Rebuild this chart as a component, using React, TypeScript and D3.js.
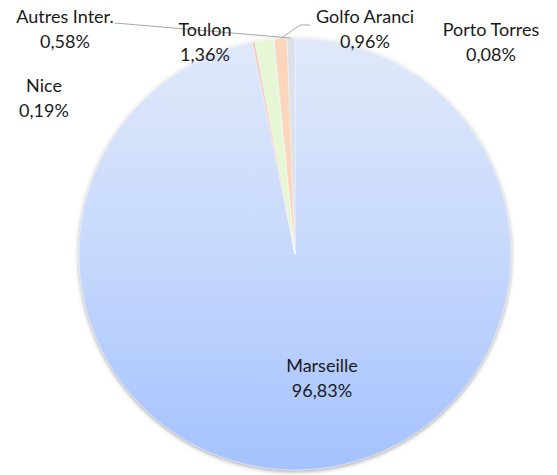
import React, { useEffect, useRef } from 'react';
import * as d3 from 'd3';

// ports, clockwise from 12 o'clock
const ports = ['Marseille', 'Nice', 'Toulon', 'Porto Torres', 'Golfo Aranci', 'Autres Inter.'];
const shares = [96.83, 0.19, 1.36, 0.08, 0.96, 0.58];
const pctLabels = ['96,83%', '0,19%', '1,36%', '0,08%', '0,96%', '0,58%'];

const colors = ['url(#gradMarseille)', '#f6c3c3', '#e6f7d3', '#c9eef2', '#fcd6bb', '#dde1e9'];

// where Excel placed the labels (center x, first baseline y)
const labelAt = {
  'Marseille': [322, 372],
  'Nice': [44, 92],
  'Toulon': [205, 36],
  'Porto Torres': [491, 36],
  'Golfo Aranci': [365, 23],
  'Autres Inter.': [65, 23],
};

const W = 557;
const H = 475;

const App = () => {
  const svgRef = useRef(null);

  useEffect(() => {
    const svg = d3.select(svgRef.current);
    svg.selectAll('*').remove();

    const cx = 295;
    const cy = 254;
    const r = 216;

    const defs = svg.append('defs');
    // gradient is resolved in the pie group's own (translated) space
    const grad = defs.append('linearGradient')
      .attr('id', 'gradMarseille')
      .attr('gradientUnits', 'userSpaceOnUse')
      .attr('x1', 0).attr('y1', -r)
      .attr('x2', 0).attr('y2', r);
    grad.append('stop').attr('offset', '0%').attr('stop-color', '#e0e9f9');
    grad.append('stop').attr('offset', '50%').attr('stop-color', '#c6d8fc');
    grad.append('stop').attr('offset', '100%').attr('stop-color', '#a5c2ff');

    const shadow = defs.append('filter').attr('id', 'pieShadow')
      .attr('x', '-10%').attr('y', '-10%').attr('width', '120%').attr('height', '120%');
    shadow.append('feDropShadow')
      .attr('dx', 0).attr('dy', 1.5)
      .attr('stdDeviation', 2)
      .attr('flood-color', '#555')
      .attr('flood-opacity', 0.55);

    const data = ports.map((p, i) => ({ port: p, value: shares[i], pct: pctLabels[i], color: colors[i] }));

    const pie = d3.pie().sort(null).value(d => d.value);
    const arc = d3.arc().innerRadius(0).outerRadius(r);
    const arcs = pie(data);

    const g = svg.append('g').attr('transform', `translate(${cx},${cy})`);

    g.append('g')
      .attr('filter', 'url(#pieShadow)')
      .selectAll('path')
      .data(arcs)
      .enter().append('path')
      .attr('d', arc)
      .attr('fill', d => d.data.color)
      .attr('stroke', '#ffffff')
      .attr('stroke-width', 0.4);

    // leader lines for the two labels that sit away from their slices
    const byName = Object.fromEntries(arcs.map(a => [a.data.port, a]));
    const tip = name => {
      const a = byName[name];
      const mid = (a.startAngle + a.endAngle) / 2;
      return [cx + r * Math.sin(mid), cy - r * Math.cos(mid)];
    };
    const line = d3.line();
    svg.append('path')
      .attr('d', line([[115, 23], tip('Autres Inter.')]))
      .attr('fill', 'none').attr('stroke', '#a6a6a6').attr('stroke-width', 1);
    svg.append('path')
      .attr('d', line([[310, 25], [300, 25], tip('Golfo Aranci')]))
      .attr('fill', 'none').attr('stroke', '#a6a6a6').attr('stroke-width', 1);

    const labels = svg.append('g')
      .attr('font-family', 'Lato, "Open Sans", sans-serif')
      .attr('font-size', 18)
      .attr('fill', '#1a1a1a')
      .attr('text-anchor', 'middle');

    data.forEach(d => {
      const [x, y] = labelAt[d.port];
      const t = labels.append('text').attr('x', x).attr('y', y);
      t.append('tspan').attr('x', x).text(d.port);
      t.append('tspan').attr('x', x).attr('dy', 25).text(d.pct);
    });
  }, []);

  return (
    <svg
      ref={svgRef}
      width={W}
      height={H}
      style={{ position: 'absolute', left: 0, top: 0, background: '#fff' }}
    />
  );
};

export default App;
